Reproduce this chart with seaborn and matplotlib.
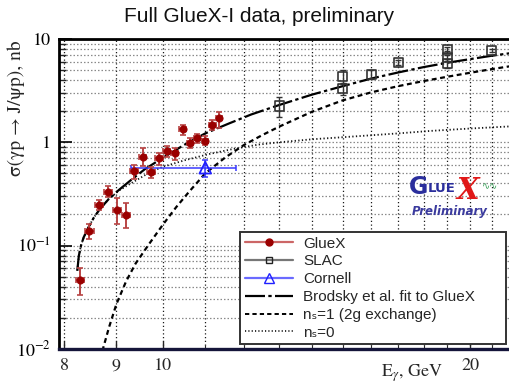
import matplotlib
matplotlib.use("Agg")
import matplotlib.pyplot as plt
from matplotlib.lines import Line2D
from matplotlib.ticker import FixedLocator, FixedFormatter, NullFormatter, LogLocator
import pandas as pd
import seaborn as sns

# ---- GlueX measurements ----
gluex_E = [8.29, 8.47, 8.66, 8.84, 9.01, 9.20, 9.37, 9.55, 9.73, 9.91,
           10.08, 10.27, 10.45, 10.63, 10.80, 11.00, 11.18, 11.35]
gluex_sigma = [0.046, 0.137, 0.245, 0.33, 0.222, 0.198, 0.531, 0.725, 0.519, 0.70,
               0.82, 0.78, 1.34, 0.98, 1.09, 1.04, 1.47, 1.71]
gluex_err_lo = [0.013, 0.021, 0.026, 0.035, 0.062, 0.051, 0.09, 0.14, 0.07, 0.10,
                0.10, 0.10, 0.15, 0.10, 0.11, 0.10, 0.16, 0.34]
gluex_err_hi = [0.014, 0.024, 0.029, 0.05, 0.068, 0.062, 0.07, 0.15, 0.06, 0.09,
                0.11, 0.10, 0.13, 0.12, 0.12, 0.10, 0.17, 0.27]
gluex_dE = [0.08, 0.08, 0.08, 0.08, 0.08, 0.08, 0.08, 0.08, 0.08, 0.08,
            0.08, 0.08, 0.08, 0.08, 0.08, 0.08, 0.08, 0.08]

# ---- SLAC measurements ----
slac_E = [13.0, 15.0, 15.0, 16.0, 17.0, 19.0, 19.0, 19.0, 21.0]
slac_sigma = [2.25, 4.35, 3.33, 4.57, 5.93, 7.96, 6.6, 5.83, 7.8]
slac_err = [0.48, 0.7, 0.45, 0.5, 0.35, 0.35, 0.45, 0.55, 0.3]

# ---- Cornell measurement ----
cornell_E = [11.0]
cornell_sigma = [0.567]
cornell_dE_lo = [1.7]
cornell_dE_hi = [0.8]
cornell_err = [0.11]

# ---- model curves ----
fit_E = [8.24, 8.27, 8.31, 8.36, 8.45, 8.55, 8.67, 8.84, 9.05, 9.30, 9.60, 10.0,
         10.5, 11.0, 11.6, 12.2, 13.0, 14.0, 15.0, 16.0, 17.0, 18.0, 19.0, 20.0, 21.0, 22.0]
fit_sigma = [0.057, 0.08, 0.10, 0.12, 0.15, 0.185, 0.225, 0.28, 0.345, 0.43, 0.55, 0.71,
             0.95, 1.22, 1.52, 1.86, 2.30, 2.90, 3.50, 4.15, 4.75, 5.35, 5.90, 6.40, 6.90, 7.35]

ns1_E = [8.72, 8.85, 9.0, 9.2, 9.4, 9.7, 10.0, 10.3, 10.6, 11.0, 11.5, 12.0, 12.5,
         13.0, 14.0, 15.0, 16.0, 17.0, 18.0, 19.0, 20.0, 21.0, 22.0]
ns1_sigma = [0.0095, 0.016, 0.027, 0.045, 0.067, 0.105, 0.16, 0.235, 0.33, 0.50, 0.71,
             0.94, 1.17, 1.42, 1.98, 2.55, 3.05, 3.5, 3.92, 4.32, 4.72, 5.12, 5.5]

ns0_E = [8.24, 8.27, 8.31, 8.36, 8.45, 8.55, 8.67, 8.84, 9.05, 9.30, 9.70, 10.0, 10.5,
         11.1, 11.7, 12.4, 13.0, 14.0, 15.0, 16.0, 17.0, 18.3, 20.0, 22.0]
ns0_sigma = [0.057, 0.08, 0.10, 0.12, 0.15, 0.185, 0.225, 0.28, 0.34, 0.40, 0.51, 0.58,
             0.67, 0.77, 0.86, 0.95, 1.0, 1.07, 1.12, 1.17, 1.22, 1.29, 1.36, 1.43]

# tick labels
x_major = [8, 9, 10, 20]
x_major_labels = ["8", "9", "10", "20"]
x_minor = [11, 12, 13, 14, 15, 16, 17, 18, 19, 21]
y_major = [0.01, 0.1, 1, 10]
y_major_labels = [r"$10^{-2}$", r"$10^{-1}$", "1", "10"]

sns.set_theme(style="white")
plt.rcParams["mathtext.fontset"] = "stix"
plt.rcParams["font.family"] = ["Liberation Sans", "DejaVu Sans"]

W, H = 510, 384
fig = plt.figure(figsize=(W / 100, H / 100), dpi=100)
ax = fig.add_axes([59 / W, 35.3 / H, 451 / W, 309.6 / H])
ax.set_xscale("log")
ax.set_yscale("log")
ax.set_xlim(7.907, 21.88)
ax.set_ylim(0.01, 10)

# grid
ax.set_axisbelow(True)
ax.xaxis.set_major_locator(FixedLocator(x_major))
ax.xaxis.set_major_formatter(FixedFormatter(x_major_labels))
ax.xaxis.set_minor_locator(FixedLocator(x_minor))
ax.xaxis.set_minor_formatter(NullFormatter())
ax.yaxis.set_major_locator(FixedLocator(y_major))
ax.yaxis.set_major_formatter(FixedFormatter(y_major_labels))
ax.yaxis.set_minor_locator(LogLocator(base=10, subs=[2, 3, 4, 5, 6, 7, 8, 9]))
ax.yaxis.set_minor_formatter(NullFormatter())
ax.grid(True, which="both", axis="y", color="#8a8a8a", ls=(0, (1.2, 1.6)), lw=0.9)
ax.grid(True, which="both", axis="x", color="#1a1a1a", ls=(0, (1.0, 2.0)), lw=0.9)

# model curves
sns.lineplot(x=ns0_E, y=ns0_sigma, ax=ax, estimator=None, sort=False,
             color="#111111", lw=1.3, linestyle=(0, (0.7, 1.3)))
sns.lineplot(x=ns1_E, y=ns1_sigma, ax=ax, estimator=None, sort=False,
             color="black", lw=1.6, linestyle=(0, (2.2, 1.6)))
sns.lineplot(x=fit_E, y=fit_sigma, ax=ax, estimator=None, sort=False,
             color="black", lw=1.6, linestyle=(0, (9, 1.5, 1.5, 1.5)))

# Cornell
ax.errorbar(cornell_E, cornell_sigma, xerr=[cornell_dE_lo, cornell_dE_hi], yerr=cornell_err,
            fmt="none", ecolor="#3a3aff", elinewidth=1.1, capsize=2.5, capthick=1.1, zorder=4)
sns.scatterplot(x=cornell_E, y=cornell_sigma, ax=ax, marker="^", s=70,
                facecolor="none", edgecolor="#2020ff", linewidth=1.3, zorder=5)

# SLAC
ax.errorbar(slac_E, slac_sigma, yerr=slac_err, fmt="none", ecolor="#333333",
            elinewidth=1.0, capsize=2, capthick=1.0, zorder=4)
sns.scatterplot(x=slac_E, y=slac_sigma, ax=ax, marker="s", s=45,
                facecolor="none", edgecolor="#333333", linewidth=1.2, zorder=5)

# GlueX
ax.errorbar(gluex_E, gluex_sigma, xerr=gluex_dE, yerr=[gluex_err_lo, gluex_err_hi],
            fmt="none", ecolor="#b84444", elinewidth=1.4, capsize=2, capthick=1.2, zorder=4)
sns.scatterplot(x=gluex_E, y=gluex_sigma, ax=ax, marker="o", s=28,
                color="#9a0000", edgecolor="#9a0000", linewidth=0.5, zorder=6)

# axes frame
for side in ["left", "top"]:
    ax.spines[side].set_linewidth(2.0)
    ax.spines[side].set_color("black")
ax.spines["bottom"].set_linewidth(2.4)
ax.spines["bottom"].set_color("#15153a")
ax.spines["right"].set_visible(False)

ax.tick_params(axis="y", which="major", direction="in", length=9, width=1.2, pad=6,
               labelsize=13, colors="black", left=True)
ax.tick_params(axis="y", which="minor", direction="in", length=5, width=1.0, left=True)
ax.tick_params(axis="x", which="major", direction="in", length=6, width=1.0, pad=7,
               labelsize=13, bottom=True)
ax.tick_params(axis="x", which="minor", direction="in", length=3, width=0.8, bottom=True)
for lab in ax.get_xticklabels() + ax.get_yticklabels():
    lab.set_family("STIXGeneral")
ax.set_xlabel("")
ax.set_ylabel("")

# titles
fig.text(259 / W, 1 - 17 / H, "Full GlueX-I data, preliminary", ha="center", va="center",
         fontsize=15, color="#111111")
fig.text(16 / W, 1 - 40 / H, "σ(γp → J/ψp), nb", rotation=90, ha="center", va="top",
         fontsize=14, family="STIXGeneral")
fig.text(412 / W, 1 - 373 / H, r"E$_\gamma$, GeV", ha="center", va="center",
         fontsize=13, family="STIXGeneral")

# GlueX logo
fig.text(409 / W, 1 - 187 / H, "G", color="#2a2e9c", fontsize=17, weight="bold",
         ha="left", va="center", family="DejaVu Sans")
fig.text(428 / W, 1 - 189 / H, "LUE", color="#2a2e9c", fontsize=9.5, weight="bold",
         ha="left", va="center", family="DejaVu Sans")
fig.text(457 / W, 1 - 190 / H, "X", color="#e01818", fontsize=21, weight="bold",
         style="italic", ha="left", va="center", family="DejaVu Serif")
fig.text(482 / W, 1 - 186 / H, "∿∿", color="#3aa05a", fontsize=7,
         ha="left", va="center", family="DejaVu Sans")
fig.text(450 / W, 1 - 212 / H, "Preliminary", color="#3b3b9e", fontsize=8.5, weight="bold",
         style="italic", ha="center", va="center", family="DejaVu Sans")

# legend
handles = [
    Line2D([], [], color="#cc6666", lw=1.6, marker="o", ms=5, mfc="#9a0000", mec="#9a0000"),
    Line2D([], [], color="#777777", lw=1.6, marker="s", ms=5, mfc="none", mec="#222222"),
    Line2D([], [], color="#6a6aff", lw=1.6, marker="^", ms=7, mfc="none", mec="#2020ff"),
    Line2D([], [], color="black", lw=1.6, linestyle=(0, (9, 1.5, 1.5, 1.5))),
    Line2D([], [], color="black", lw=1.4, linestyle=(0, (2.2, 1.6))),
    Line2D([], [], color="#111111", lw=1.2, linestyle=(0, (0.7, 1.3))),
]
labels = ["GlueX", "SLAC", "Cornell", "Brodsky et al. fit to GlueX",
          "nₛ=1 (2g exchange)", "nₛ=0"]
leg = ax.legend(handles, labels, loc="upper left",
                bbox_to_anchor=(240 / W, 43 / H, 266 / W, 109 / H),
                bbox_transform=fig.transFigure, mode="expand",
                frameon=True, fancybox=False, edgecolor="#333333", framealpha=1,
                fontsize=11, handlelength=3.2, handletextpad=0.65, labelspacing=0.25,
                borderpad=0.3, borderaxespad=0)
leg.get_frame().set_linewidth(1.4)
leg.set_zorder(8)

fig.savefig("out.png", dpi=100)
